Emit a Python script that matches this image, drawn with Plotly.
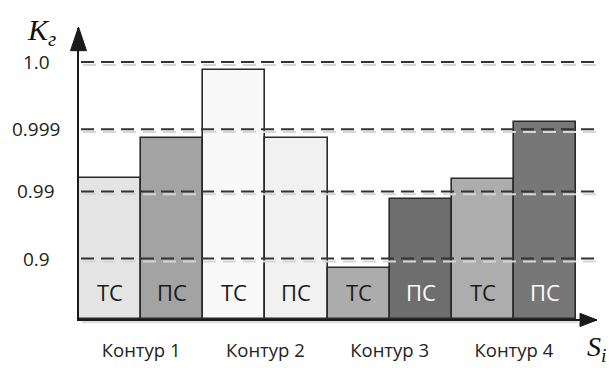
import plotly.graph_objects as go

# ---------------- data ----------------
contours = ["Контур 1", "Контур 2", "Контур 3", "Контур 4"]
bar_labels = ["ТС", "ПС", "ТС", "ПС", "ТС", "ПС", "ТС", "ПС"]
# bar heights on the chart's (non-linear) reliability scale, same units as tick_levels
kg_levels = [2.19, 2.82, 3.87, 2.82, 0.79, 1.87, 2.18, 3.06]
tick_levels = [0.94, 1.985, 2.955, 4.0]
tick_labels = ["0.9", "0.99", "0.999", "1.0"]

# ---------------- style ----------------
bar_colors = ["#e4e4e4", "#a3a3a3", "#f9f9f9", "#f1f1f1",
              "#acacac", "#6e6e6e", "#adadad", "#777777"]
label_colors = ["#1a1a1a", "#1a1a1a", "#1a1a1a", "#1a1a1a",
                "#1a1a1a", "#ffffff", "#1a1a1a", "#ffffff"]
W, H = 609, 374
L, R, T, B = 79, 12, 28, 38
PW, PH = W - L - R, H - T - B
YMAX = 4.53
UNIT = PH / YMAX  # px per y unit
AX = "#1a1a1a"
FONT = "Open Sans"

def px_x(p):
    return (p - L) / PW

def px_y(p):
    return (H - B - p) / PH

xs = list(range(len(kg_levels)))

fig = go.Figure()
fig.add_trace(go.Bar(
    x=xs, y=kg_levels,
    marker=dict(color=bar_colors, line=dict(color="#2a2a2a", width=1.6)),
    width=1.0, hoverinfo="skip", showlegend=False,
))

shapes = []
# gridline shadows, then gridlines (above bars)
for lv in tick_levels:
    shapes.append(dict(type="line", xref="paper", yref="y",
                       x0=px_x(L + 4), x1=px_x(W - R + 3),
                       y0=lv - 3 / UNIT, y1=lv - 3 / UNIT,
                       line=dict(color="#d6d6d6", width=2, dash="13px,7px"),
                       layer="above"))
for lv in tick_levels:
    shapes.append(dict(type="line", xref="paper", yref="y",
                       x0=px_x(L + 2), x1=px_x(W - R + 1), y0=lv, y1=lv,
                       line=dict(color="#333333", width=2, dash="13px,7px"),
                       layer="above"))
# bar-base shadow
shapes.append(dict(type="line", xref="paper", yref="paper",
                   x0=px_x(L + 3), x1=px_x(578), y0=px_y(339.5), y1=px_y(339.5),
                   line=dict(color="#d9d9d9", width=2), layer="below"))
# arrowheads
shapes.append(dict(type="path", xref="paper", yref="paper",
                   path=f"M {px_x(L-0.5)},{px_y(27)} L {px_x(L-8.5)},{px_y(52)} L {px_x(L+7.5)},{px_y(52)} Z",
                   fillcolor=AX, line=dict(color=AX, width=1), layer="above"))
shapes.append(dict(type="path", xref="paper", yref="paper",
                   path=f"M {px_x(597)},{px_y(337)} L {px_x(580)},{px_y(330)} L {px_x(580)},{px_y(344)} Z",
                   fillcolor=AX, line=dict(color=AX, width=1), layer="above"))

annotations = []
for i, (t, c) in enumerate(zip(bar_labels, label_colors)):
    annotations.append(dict(x=xs[i], y=px_y(307), xref="x", yref="paper", text=t,
                            showarrow=False, xanchor="center", yanchor="middle",
                            font=dict(family=FONT, size=22, color=c)))
for lv, t in zip(tick_levels, tick_labels):
    annotations.append(dict(x=px_x(36), y=lv, xref="paper", yref="y", text=t,
                            showarrow=False, xanchor="center", yanchor="middle",
                            font=dict(family=FONT, size=19, color="#222222")))
annotations.append(dict(x=px_x(25), y=px_y(10), xref="paper", yref="paper",
                        text="<i>K</i><sub><i>г</i></sub>", showarrow=False,
                        xanchor="left", yanchor="top",
                        font=dict(family="Liberation Serif", size=30, color="#111111")))
annotations.append(dict(x=px_x(585), y=px_y(347), xref="paper", yref="paper",
                        text="<i>S</i><sub><i>i</i></sub>", showarrow=False,
                        xanchor="left", yanchor="top",
                        font=dict(family="Liberation Serif", size=28, color="#111111")))

fig.update_layout(
    autosize=True,
    margin=dict(l=L, r=R, t=T, b=B, pad=0),
    paper_bgcolor="white", plot_bgcolor="white",
    bargap=0,
    shapes=shapes, annotations=annotations,
    xaxis=dict(range=[-0.5, -0.5 + PW / ((576 - 79) / 8)],
               tickvals=[0.5, 2.5, 4.5, 6.5], ticktext=contours,
               ticks="outside", ticklen=14, tickcolor="rgba(0,0,0,0)",
               tickfont=dict(family=FONT, size=18.5, color="#222222"),
               showline=True, linewidth=2, linecolor=AX,
               showgrid=False, zeroline=False, fixedrange=True),
    yaxis=dict(range=[0, YMAX], showticklabels=False, ticks="",
               showline=True, linewidth=2, linecolor=AX,
               showgrid=False, zeroline=False, fixedrange=True),
)

fig.write_html("out.html", config={"displayModeBar": False, "responsive": False},
               default_width=f"{W}px",
               default_height=f"{H}px;position:absolute;left:0;top:0")
